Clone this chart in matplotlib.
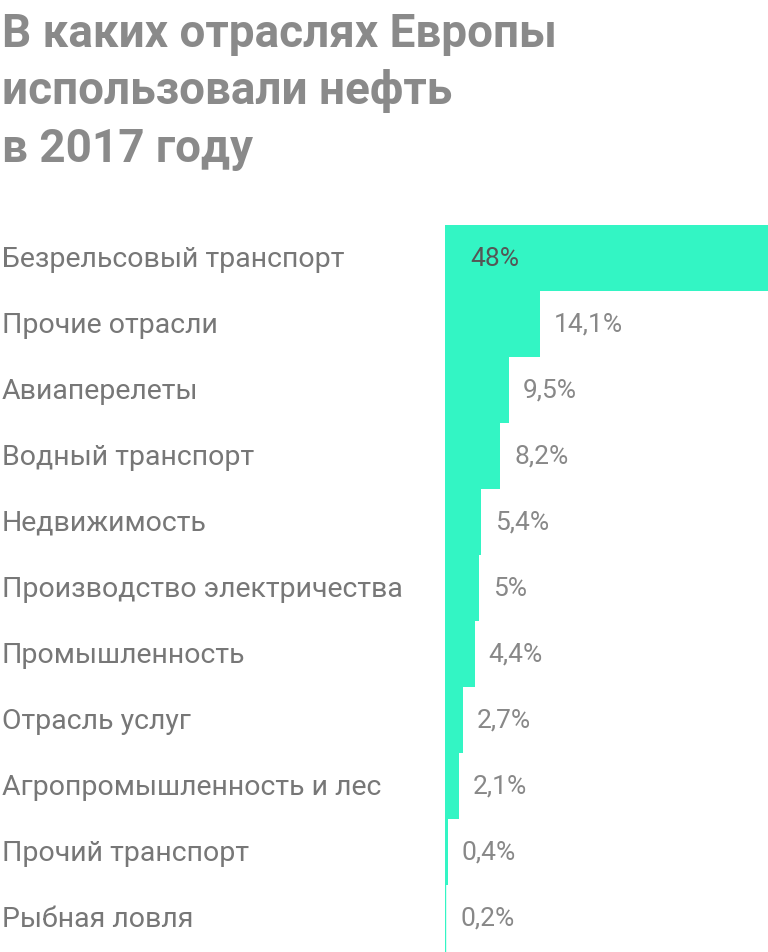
import matplotlib
matplotlib.use("Agg")
import matplotlib.pyplot as plt

categories = ["Безрельсовый транспорт", "Прочие отрасли", "Авиаперелеты", "Водный транспорт",
              "Недвижимость", "Производство электричества", "Промышленность", "Отрасль услуг",
              "Агропромышленность и лес", "Прочий транспорт", "Рыбная ловля"]
values = [48, 14.1, 9.5, 8.2, 5.4, 5, 4.4, 2.7, 2.1, 0.4, 0.2]
labels = ["48%", "14,1%", "9,5%", "8,2%", "5,4%", "5%", "4,4%", "2,7%", "2,1%", "0,4%", "0,2%"]

plt.rcParams['font.family'] = ['Roboto', 'DejaVu Sans']
W, H = 768, 953
fig = plt.figure(figsize=(W/100, H/100), dpi=100)
fig.patch.set_facecolor('white')
x0, top = 445, 226
ax = fig.add_axes([x0/W, 0, 1 - x0/W, (H - top)/H])
n = len(values)
ys = list(range(n))
ax.barh(ys, values, height=1.0, color='#33f5c4', edgecolor='none')
ax.set_xlim(0, 48)
ax.set_ylim(n - 0.5 + 0.02, -0.5)
ax.axis('off')
ax.axvline(0, color='#33f5c4', lw=1)
for i, (v, l) in enumerate(zip(values, labels)):
    if i == 0:
        ax.annotate(l, (0, i), xytext=(18, 0), textcoords='offset points', va='center',
                    ha='left', fontsize=19, color='#555555')
    else:
        ax.annotate(l, (v, i), xytext=(10, 0), textcoords='offset points', va='center',
                    ha='left', fontsize=19, color='#888888')
    yfig = 1 - (top + (i + 0.5) * (H - top) / n) / H
    fig.text(2/W, yfig, categories[i], fontsize=20.5, color='#777777', va='center', ha='left')

t = fig.text(2/W, 1 - 12/H, "В каких отраслях Европы\nиспользовали нефть\nв 2017 году", fontsize=33,
             fontweight='bold', color='#8a8a8a', va='top', ha='left', linespacing=1.38)
fig.savefig("out.png", dpi=100, facecolor='white')
